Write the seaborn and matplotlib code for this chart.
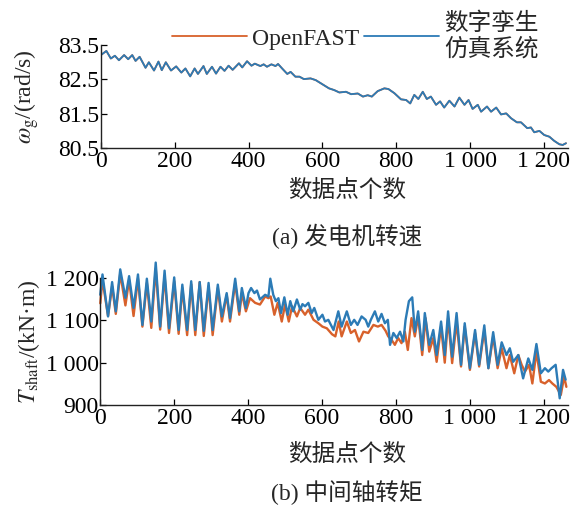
import seaborn as sns
import pandas as pd
import matplotlib.pyplot as plt
from matplotlib.ticker import FuncFormatter


# generator speed (both curves sit on top of each other)
omega_x = [0, 15, 27, 38, 49, 63, 74, 85, 94, 105, 121, 130, 144, 156, 165, 176, 190, 204, 218, 229,
           242, 254, 263, 278, 287, 301, 312, 324, 335, 346, 357, 374, 383, 396, 408, 417, 432, 441, 450, 462,
           473, 480, 491, 505, 514, 527, 538, 550, 568, 582, 600, 618, 632, 646, 664, 678, 696, 710, 723, 734,
           750, 768, 779, 795, 813, 827, 838, 849, 860, 872, 883, 894, 908, 919, 930, 944, 958, 971, 985, 996,
           1007, 1021, 1030, 1046, 1057, 1071, 1084, 1098, 1111, 1127, 1138, 1155, 1165, 1174, 1188, 1201, 1215, 1228, 1242, 1251,
           1260]
omega_twin = [83.21, 83.33, 83.11, 83.19, 83.06, 83.21, 83.09, 83.21, 83.04, 83.16, 82.84, 83.00, 82.76, 83.02, 82.77, 83.00, 82.76, 82.88, 82.70, 82.82,
              82.59, 82.82, 82.66, 82.89, 82.66, 82.87, 82.67, 82.87, 82.75, 82.90, 82.78, 82.97, 82.85, 83.03, 82.90, 82.96, 82.89, 82.94, 82.87, 82.94,
              82.89, 82.95, 82.82, 82.66, 82.72, 82.58, 82.58, 82.51, 82.53, 82.48, 82.36, 82.24, 82.19, 82.12, 82.14, 82.07, 82.09, 82.00, 82.04, 82.00,
              82.16, 82.24, 82.22, 82.10, 81.92, 81.90, 81.80, 82.05, 81.93, 82.14, 81.93, 82.00, 81.76, 81.86, 81.68, 81.88, 81.71, 81.97, 81.76, 81.90,
              81.64, 81.76, 81.56, 81.71, 81.56, 81.68, 81.48, 81.51, 81.37, 81.25, 81.25, 81.08, 81.10, 80.96, 81.00, 80.88, 80.83, 80.71, 80.61, 80.59,
              80.64]
omega_openfast = omega_twin

# shaft torque
torque_x_twin = [0, 6, 21, 32, 42, 54, 68, 78, 90, 102, 114, 126, 138, 150, 162, 174, 186, 200, 212, 222,
                 235, 246, 257, 269, 280, 293, 304, 318, 329, 342, 351, 365, 376, 383, 394, 401, 408, 417, 424, 432,
                 446, 455, 460, 468, 475, 482, 489, 498, 507, 514, 522, 532, 541, 547, 554, 563, 572, 579, 590, 601,
                 608, 617, 631, 644, 653, 667, 678, 687, 696, 707, 718, 725, 732, 743, 752, 761, 770, 778, 784, 793,
                 802, 811, 820, 826, 835, 844, 851, 860, 871, 878, 890, 901, 910, 922, 932, 941, 952, 964, 976, 986,
                 1000, 1014, 1025, 1039, 1050, 1063, 1075, 1086, 1099, 1108, 1117, 1131, 1144, 1158, 1169, 1180, 1192, 1203, 1212, 1221,
                 1232, 1243, 1252, 1259]
torque_twin = [1160, 1208, 1109, 1190, 1121, 1220, 1153, 1204, 1129, 1208, 1089, 1198, 1097, 1236, 1085, 1217, 1081, 1201, 1077, 1184,
               1077, 1192, 1077, 1190, 1075, 1188, 1077, 1184, 1109, 1164, 1105, 1198, 1121, 1176, 1129, 1164, 1176, 1164, 1170, 1149,
               1160, 1156, 1198, 1160, 1145, 1152, 1117, 1154, 1113, 1145, 1121, 1149, 1125, 1138, 1133, 1141, 1117, 1129, 1101, 1113,
               1097, 1101, 1077, 1121, 1085, 1121, 1089, 1101, 1089, 1109, 1101, 1085, 1101, 1121, 1097, 1115, 1093, 1101, 1042, 1070,
               1058, 1073, 1050, 1101, 1145, 1154, 1073, 1121, 1030, 1117, 1042, 1077, 1018, 1097, 1018, 1121, 1014, 1117, 995, 1093,
               987, 1077, 995, 1088, 987, 1072, 995, 1048, 1018, 1034, 1002, 1018, 963, 1010, 983, 1044, 975, 987, 979, 987,
               995, 916, 983, 960]

torque_x_openfast = [0, 6, 21, 32, 42, 54, 68, 78, 90, 102, 114, 126, 138, 150, 162, 174, 186, 200, 212, 222,
                     235, 246, 257, 269, 280, 293, 304, 318, 329, 342, 351, 365, 376, 383, 394, 405, 419, 432, 446, 455,
                     461, 471, 480, 491, 500, 510, 519, 532, 541, 554, 563, 577, 590, 601, 613, 627, 636, 645, 653, 667,
                     678, 689, 700, 712, 725, 739, 751, 761, 772, 779, 788, 797, 806, 815, 824, 832, 842, 851, 860, 871,
                     880, 890, 901, 910, 922, 932, 941, 952, 964, 976, 986, 1000, 1014, 1025, 1039, 1050, 1063, 1075, 1086, 1099,
                     1108, 1120, 1131, 1140, 1149, 1160, 1169, 1180, 1192, 1203, 1214, 1223, 1234, 1246, 1255, 1261]
torque_openfast = [1140, 1195, 1110, 1180, 1115, 1210, 1135, 1195, 1110, 1198, 1085, 1188, 1082, 1222, 1078, 1205, 1070, 1192, 1068, 1176,
                   1065, 1185, 1065, 1190, 1063, 1180, 1065, 1176, 1097, 1160, 1097, 1188, 1113, 1164, 1121, 1152, 1141, 1137, 1156, 1152,
                   1156, 1113, 1141, 1097, 1137, 1097, 1133, 1109, 1129, 1113, 1125, 1101, 1093, 1085, 1081, 1067, 1062, 1097, 1062, 1097,
                   1070, 1077, 1050, 1073, 1070, 1089, 1085, 1089, 1075, 1062, 1054, 1042, 1058, 1046, 1073, 1030, 1105, 1062, 1109, 1018,
                   1105, 1026, 1058, 1002, 1085, 1000, 1105, 999, 1097, 991, 1085, 983, 1070, 991, 1077, 987, 1062, 987, 1034, 987,
                   1018, 975, 1018, 995, 979, 995, 951, 1026, 955, 951, 959, 951, 943, 924, 967, 943]

x_ticks = [0, 200, 400, 600, 800, 1000, 1200]
omega_ticks = [80.5, 81.5, 82.5, 83.5]
torque_ticks = [900, 1000, 1100, 1200]

c_openfast = '#D8612B'
c_twin = '#2C7BB6'

sns.set_theme(style='ticks')
plt.rcParams['font.family'] = ['Liberation Serif', 'Noto Sans CJK SC']
plt.rcParams['mathtext.fontset'] = 'stix'
plt.rcParams['axes.unicode_minus'] = False

fs = 17
space_fmt = FuncFormatter(lambda v, p: f"{int(round(v)):,}".replace(',', ' '))

fig = plt.figure(figsize=(5.83, 5.07), dpi=100)
ax1 = fig.add_axes([0.173, 0.708, 0.801, 0.203])
ax2 = fig.add_axes([0.172, 0.201, 0.802, 0.251])

df_w = pd.DataFrame({'x': omega_x, 'openfast': omega_openfast, 'twin': omega_twin})
sns.lineplot(data=df_w, x='x', y='openfast', color=c_openfast, lw=1.3, ax=ax1, label='OpenFAST')
sns.lineplot(data=df_w, x='x', y='twin', color=c_twin, lw=1.3, ax=ax1, label='数字孪生\n仿真系统')

df_o = pd.DataFrame({'x': torque_x_openfast, 'y': torque_openfast})
df_t = pd.DataFrame({'x': torque_x_twin, 'y': torque_twin})
sns.lineplot(data=df_o, x='x', y='y', color=c_openfast, lw=1.7, ax=ax2, clip_on=False)
sns.lineplot(data=df_t, x='x', y='y', color=c_twin, lw=1.7, ax=ax2, clip_on=False)

for ax in (ax1, ax2):
    ax.set_xlim(0, 1265)
    ax.set_xticks(x_ticks)
    ax.xaxis.set_major_formatter(space_fmt)
    ax.tick_params(direction='in', length=4, width=0.9, labelsize=fs, pad=2, colors='black')
    ax.tick_params(axis='y', pad=1)
    sns.despine(ax=ax)
    for s in ('left', 'bottom'):
        ax.spines[s].set_linewidth(1.0)
        ax.spines[s].set_color('#222222')
    ax.set_xlabel('')

ax1.set_ylim(80.5, 83.5)
ax1.set_yticks(omega_ticks)
ax1.set_yticklabels([f"{v:.1f}" for v in omega_ticks])
ax1.set_ylabel(r'$\omega_{\mathrm{g}}$/(rad/s)', fontsize=fs)
ax1.yaxis.set_label_coords(-0.128, 0.5)

ax2.set_ylim(900, 1200)
ax2.set_yticks(torque_ticks)
ax2.yaxis.set_major_formatter(space_fmt)
ax2.set_ylabel(r'$T_{\mathrm{shaft}}$/(kN·m)', fontsize=fs)
ax2.yaxis.set_label_coords(-0.125, 0.5)

handles, labels = ax1.get_legend_handles_labels()
ax1.get_legend().remove()
fig.legend(handles, labels, loc='center', bbox_to_anchor=(0.609, 0.928), ncol=2, frameon=False,
           fontsize=fs, handlelength=3.2, handletextpad=0.2, columnspacing=0.2, borderaxespad=0)

fig.text(0.595, 0.623, '数据点个数', ha='center', va='center', fontsize=fs)
fig.text(0.595, 0.533, '(a) 发电机转速', ha='center', va='center', fontsize=fs)
fig.text(0.595, 0.103, '数据点个数', ha='center', va='center', fontsize=fs)
fig.text(0.595, 0.028, '(b) 中间轴转矩', ha='center', va='center', fontsize=fs)

fig.savefig('out.png', dpi=100, facecolor='white')
